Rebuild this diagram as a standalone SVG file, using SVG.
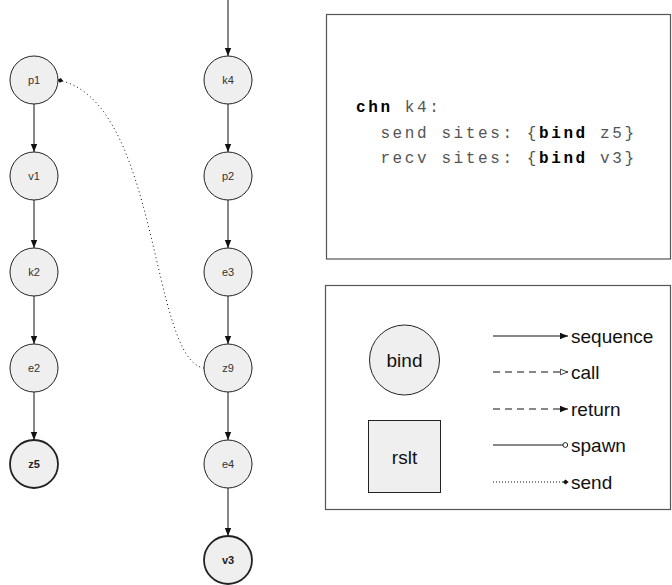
<svg xmlns="http://www.w3.org/2000/svg" width="672" height="585" viewBox="0 0 672 585">
<style>
.n circle{fill:#efefef;stroke:#222;stroke-width:1}
.n.b circle{stroke-width:1.8}
.n text{font-family:"Liberation Sans",Arial,sans-serif;font-size:11px;fill:#333;text-anchor:middle}
.n.b text{font-weight:bold;fill:#222}
.e{stroke:#111;stroke-width:1;fill:none}
.box{fill:#fff;stroke:#555;stroke-width:1.2}
.code{font-family:"Liberation Mono","Courier New",monospace;font-size:16px;letter-spacing:2.6px;fill:#555}
.code .k{font-weight:bold;fill:#000}
.lg{font-family:"Liberation Sans",Arial,sans-serif;font-size:19px;fill:#111}
</style>
<defs>
<marker id="tri" viewBox="0 0 10 10" refX="10" refY="5" markerWidth="8" markerHeight="8" markerUnits="userSpaceOnUse" orient="auto"><path d="M0,1 L10,5 L0,9 z" fill="#111"/></marker>
<marker id="otri" viewBox="0 0 10 10" refX="10" refY="5" markerWidth="8" markerHeight="8" markerUnits="userSpaceOnUse" orient="auto"><path d="M0.5,1.5 L9.5,5 L0.5,8.5 z" fill="#fff" stroke="#111" stroke-width="1"/></marker>
<marker id="ocirc" viewBox="0 0 10 10" refX="9.5" refY="5" markerWidth="6" markerHeight="6" markerUnits="userSpaceOnUse" orient="auto"><circle cx="5" cy="5" r="4" fill="#fff" stroke="#111" stroke-width="1.5"/></marker>
<marker id="dot" viewBox="0 0 10 10" refX="9" refY="5" markerWidth="6" markerHeight="6" markerUnits="userSpaceOnUse" orient="auto"><path d="M0,5 L5,1 L10,5 L5,9 z" fill="#111"/></marker>
</defs>

<g id="connectors">
<line class="e" x1="228" y1="0" x2="228" y2="56" marker-end="url(#tri)"/>
<line class="e" x1="34" y1="104" x2="34" y2="152" marker-end="url(#tri)"/>
<line class="e" x1="34" y1="200" x2="34" y2="248" marker-end="url(#tri)"/>
<line class="e" x1="34" y1="296" x2="34" y2="344" marker-end="url(#tri)"/>
<line class="e" x1="34" y1="392" x2="34" y2="440" marker-end="url(#tri)"/>
<line class="e" x1="228" y1="104" x2="228" y2="152" marker-end="url(#tri)"/>
<line class="e" x1="228" y1="200" x2="228" y2="248" marker-end="url(#tri)"/>
<line class="e" x1="228" y1="296" x2="228" y2="344" marker-end="url(#tri)"/>
<line class="e" x1="228" y1="392" x2="228" y2="440" marker-end="url(#tri)"/>
<line class="e" x1="228" y1="488" x2="228" y2="536" marker-end="url(#tri)"/>
<path class="e" d="M204,368 C150,360 160,100 58,80" stroke-dasharray="1,3" marker-end="url(#dot)"/>
</g>

<g id="p1" class="n"><circle cx="34" cy="80" r="24"/><text x="34" y="84">p1</text></g>
<g id="v1" class="n"><circle cx="34" cy="176" r="24"/><text x="34" y="180">v1</text></g>
<g id="k2" class="n"><circle cx="34" cy="272" r="24"/><text x="34" y="276">k2</text></g>
<g id="e2" class="n"><circle cx="34" cy="368" r="24"/><text x="34" y="372">e2</text></g>
<g id="z5" class="n b"><circle cx="34" cy="464" r="24"/><text x="34" y="468">z5</text></g>

<g id="k4" class="n"><circle cx="228" cy="80" r="24"/><text x="228" y="84">k4</text></g>
<g id="p2" class="n"><circle cx="228" cy="176" r="24"/><text x="228" y="180">p2</text></g>
<g id="e3" class="n"><circle cx="228" cy="272" r="24"/><text x="228" y="276">e3</text></g>
<g id="z9" class="n"><circle cx="228" cy="368" r="24"/><text x="228" y="372">z9</text></g>
<g id="e4" class="n"><circle cx="228" cy="464" r="24"/><text x="228" y="468">e4</text></g>
<g id="v3" class="n b"><circle cx="228" cy="560" r="24"/><text x="228" y="564">v3</text></g>

<g id="info">
<rect class="box" x="326.5" y="14.5" width="344" height="244.5"/>
<text class="code" x="356" y="112"><tspan class="k">chn</tspan> k4:</text>
<text class="code" x="380.4" y="138">send sites: {<tspan class="k">bind</tspan> z5}</text>
<text class="code" x="380.4" y="163">recv sites: {<tspan class="k">bind</tspan> v3}</text>
</g>

<g id="legend">
<rect class="box" x="325.5" y="285.5" width="345" height="224"/>
<circle cx="404.5" cy="360" r="35" fill="#efefef" stroke="#222" stroke-width="1"/>
<text class="lg" x="404.5" y="367" text-anchor="middle">bind</text>
<rect x="368.5" y="420.5" width="72" height="72" fill="#efefef" stroke="#222" stroke-width="1"/>
<text class="lg" x="404.5" y="464" text-anchor="middle">rslt</text>
<line class="e" x1="493" y1="336" x2="568" y2="336" marker-end="url(#tri)"/>
<text class="lg" x="571" y="343">sequence</text>
<line class="e" x1="493" y1="372" x2="568" y2="372" stroke-dasharray="7,5" marker-end="url(#otri)"/>
<text class="lg" x="571" y="379">call</text>
<line class="e" x1="493" y1="409" x2="568" y2="409" stroke-dasharray="7,5" marker-end="url(#tri)"/>
<text class="lg" x="571" y="416">return</text>
<line class="e" x1="493" y1="445" x2="568" y2="445" marker-end="url(#ocirc)"/>
<text class="lg" x="571" y="452">spawn</text>
<line class="e" x1="493" y1="482" x2="568" y2="482" stroke-dasharray="1,2" marker-end="url(#dot)"/>
<text class="lg" x="571" y="489">send</text>
</g>
</svg>
